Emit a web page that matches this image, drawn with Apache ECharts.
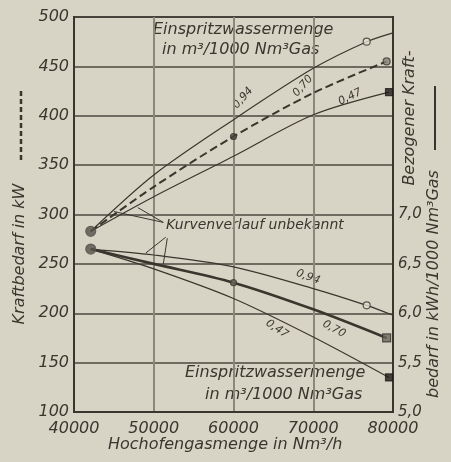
<!DOCTYPE html>
<html>
<head>
<meta charset="utf-8">
<script src="https://cdn.jsdelivr.net/npm/echarts@6/dist/echarts.min.js"></script>
<style>
html,body{margin:0;padding:0;background:#d8d4c5;}
#c{width:451px;height:462px;}
</style>
</head>
<body>
<div id="c"></div>
<script>
// ---- data (x: Hochofengasmenge Nm3/h) ----
// Kraftbedarf in kW (left axis)
const gasP094 = [42100, 50000, 60000, 70000, 76700, 80000];
const powP094 = [283, 340, 396, 448, 475, 484];
const gasP070 = [42100, 50000, 60000, 70000, 79200];
const powP070 = [283, 328, 379, 423, 455];
const gasP047 = [42100, 50000, 60000, 70000, 79500];
const powP047 = [283, 318, 359, 401, 424];
// Bezogener Kraftbedarf kWh/1000 Nm3 Gas (right axis)
const gasK094 = [42100, 50000, 60000, 70000, 76700, 80000];
const spcK094 = [6.65, 6.59, 6.47, 6.25, 6.08, 5.98];
const gasK070 = [42100, 50000, 60000, 70000, 79200];
const spcK070 = [6.65, 6.50, 6.31, 6.04, 5.75];
const gasK047 = [42100, 50000, 60000, 70000, 79500];
const spcK047 = [6.65, 6.45, 6.15, 5.76, 5.35];
// measured points (markers)
const startPow = [42100, 283];
const startSpc = [42100, 6.65];
const mkP094 = [76700, 475];
const mkP070 = [[60000, 379], [79200, 455]];
const mkP047 = [79500, 424];
const mkK094 = [76700, 6.08];
const mkK070 = [[60000, 6.31], [79200, 5.75]];
const mkK047 = [79500, 5.35];
// leader lines "Kurvenverlauf unbekannt" (data coords, left axis)
const leaderUp = [[[51200, 292], [45000, 303]], [[51200, 292], [48000, 307]]];
const leaderLow = [[[51500, 277], [49000, 261]], [[51700, 276], [51200, 250]]];
// ticks
const xTicks = [40000, 50000, 60000, 70000, 80000];
const leftTicks = [100, 150, 200, 250, 300, 350, 400, 450, 500];
const rightTicks = ['5,0', '5,5', '6,0', '6,5', '7,0'];

const ink = '#3a362e';
const FF = 'DejaVu Sans';
const pair = (xs, ys) => xs.map((x, i) => [x, ys[i]]);

function line(name, xs, ys, yIdx, width, type) {
  return {
    name, type: 'line', yAxisIndex: yIdx, data: pair(xs, ys),
    smooth: 0.3, symbol: 'none', silent: true, z: 3,
    lineStyle: { color: ink, width: width, type: type || 'solid' }
  };
}
function marks(data, yIdx, symbol, size, fill, border) {
  return {
    type: 'scatter', yAxisIndex: yIdx, data: data, symbol: symbol, symbolSize: size,
    silent: true, z: 5,
    itemStyle: { color: fill, borderColor: border || ink, borderWidth: 1.2 }
  };
}
function leaders(list) {
  return {
    type: 'lines', coordinateSystem: 'cartesian2d', silent: true, z: 4,
    data: list.map(c => ({ coords: c })),
    lineStyle: { color: ink, width: 1, opacity: 1 }
  };
}

const chart = echarts.init(document.getElementById('c'));
const txt = { fontFamily: FF, fontStyle: 'italic', fill: ink };
chart.setOption({
  backgroundColor: '#d8d4c5',
  animation: false,
  grid: { left: 74, right: 58, top: 17, bottom: 50, show: true, borderColor: '#3a362e', borderWidth: 2, backgroundColor: 'transparent' },
  xAxis: {
    type: 'value', min: xTicks[0], max: xTicks[xTicks.length - 1], interval: 10000,
    axisLine: { lineStyle: { color: ink, width: 2 } },
    axisTick: { show: false },
    axisLabel: { color: ink, fontFamily: FF, fontStyle: 'italic', fontSize: 16, margin: 9, formatter: v => String(v) },
    splitLine: { show: true, lineStyle: { color: '#8c877b', width: 2 } }
  },
  yAxis: [{
    type: 'value', min: leftTicks[0], max: leftTicks[leftTicks.length - 1], interval: 50,
    axisLine: { show: true, lineStyle: { color: ink, width: 2 } },
    axisTick: { show: false },
    axisLabel: { color: ink, fontFamily: FF, fontStyle: 'italic', fontSize: 16, margin: 5 },
    splitLine: { show: true, lineStyle: { color: '#4d483f', width: 1.5 } }
  }, {
    type: 'value', min: 5, max: 9, interval: 0.5, position: 'right',
    axisLine: { show: true, lineStyle: { color: ink, width: 2 } },
    axisTick: { show: false },
    axisLabel: {
      color: ink, fontFamily: FF, fontStyle: 'italic', fontSize: 15, margin: 5,
      formatter: v => { const s = v.toFixed(1).replace('.', ','); return rightTicks.indexOf(s) >= 0 ? s : ''; }
    },
    splitLine: { show: false }
  }],
  series: [
    line('P094', gasP094, powP094, 0, 1.2),
    line('P070', gasP070, powP070, 0, 2, [8, 4]),
    line('P047', gasP047, powP047, 0, 1.2),
    line('K094', gasK094, spcK094, 1, 1.2),
    line('K070', gasK070, spcK070, 1, 2.6),
    line('K047', gasK047, spcK047, 1, 1.2),
    leaders(leaderUp),
    leaders(leaderLow),
    marks([startPow], 0, 'circle', 10, '#55514a', '#55514a'),
    marks([startSpc], 1, 'circle', 10, '#55514a', '#55514a'),
    marks([mkP094], 0, 'circle', 7, '#e2dfd3'),
    marks([mkP070[0]], 0, 'circle', 6, '#4a463e'),
    marks([mkP070[1]], 0, 'circle', 7, '#8a857a'),
    marks([mkP047], 0, 'rect', 7, '#1e1c18', '#1e1c18'),
    marks([mkK094], 1, 'circle', 7, '#e2dfd3'),
    marks([mkK070[0]], 1, 'circle', 6, '#6a665e'),
    marks([mkK070[1]], 1, 'rect', 8, '#6a665e'),
    marks([mkK047], 1, 'rect', 7, '#1e1c18', '#1e1c18')
  ],
  graphic: [
    { type: 'text', left: 153, top: 22, style: Object.assign({ text: 'Einspritzwassermenge', fontSize: 16 }, txt) },
    { type: 'text', left: 162, top: 42, style: Object.assign({ text: 'in m³/1000 Nm³Gas', fontSize: 16 }, txt) },
    { type: 'text', left: 166, top: 218, style: Object.assign({ text: 'Kurvenverlauf unbekannt', fontSize: 14 }, txt) },
    { type: 'text', left: 185, top: 365, style: Object.assign({ text: 'Einspritzwassermenge', fontSize: 16 }, txt) },
    { type: 'text', left: 205, top: 387, style: Object.assign({ text: 'in m³/1000 Nm³Gas', fontSize: 16 }, txt) },
    { type: 'text', left: 108, top: 437, style: Object.assign({ text: 'Hochofengasmenge in Nm³/h', fontSize: 16 }, txt) },
    // curve labels
    { type: 'text', x: 243, y: 98, rotation: 0.85, style: Object.assign({ text: '0,94', fontSize: 11, align: 'center', verticalAlign: 'middle' }, txt) },
    { type: 'text', x: 303, y: 86, rotation: 0.85, style: Object.assign({ text: '0,70', fontSize: 11, align: 'center', verticalAlign: 'middle' }, txt) },
    { type: 'text', x: 350, y: 97, rotation: 0.45, style: Object.assign({ text: '0,47', fontSize: 11, align: 'center', verticalAlign: 'middle' }, txt) },
    { type: 'text', x: 308, y: 277, rotation: -0.35, style: Object.assign({ text: '0,94', fontSize: 11, align: 'center', verticalAlign: 'middle' }, txt) },
    { type: 'text', x: 334, y: 329, rotation: -0.5, style: Object.assign({ text: '0,70', fontSize: 11, align: 'center', verticalAlign: 'middle' }, txt) },
    { type: 'text', x: 277, y: 329, rotation: -0.6, style: Object.assign({ text: '0,47', fontSize: 11, align: 'center', verticalAlign: 'middle' }, txt) },
    // left axis title
    { type: 'text', x: 20, y: 254, rotation: Math.PI / 2, style: Object.assign({ text: 'Kraftbedarf in kW', fontSize: 16, align: 'center', verticalAlign: 'middle' }, txt) },
    { type: 'line', shape: { x1: 21, y1: 160, x2: 21, y2: 90 }, style: { stroke: ink, lineWidth: 2.5, lineDash: [5, 3] } },
    // right axis title
    { type: 'text', x: 410, y: 118, rotation: Math.PI / 2, style: Object.assign({ text: 'Bezogener Kraft-', fontSize: 16, align: 'center', verticalAlign: 'middle' }, txt) },
    { type: 'text', x: 434, y: 284, rotation: Math.PI / 2, style: Object.assign({ text: 'bedarf in kWh/1000 Nm³Gas', fontSize: 16, align: 'center', verticalAlign: 'middle' }, txt) },
    { type: 'line', shape: { x1: 435, y1: 150, x2: 435, y2: 86 }, style: { stroke: ink, lineWidth: 2 } }
  ]
});
</script>
</body>
</html>
